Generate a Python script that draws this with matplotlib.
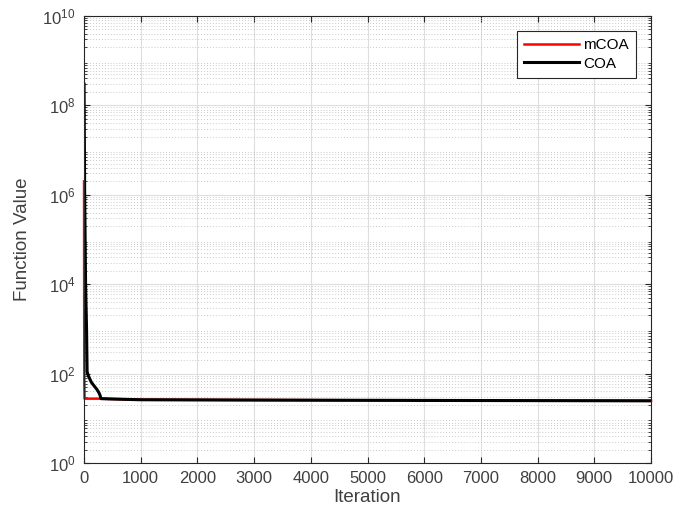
import matplotlib
matplotlib.use('agg')
import matplotlib.pyplot as plt
from matplotlib.ticker import LogLocator, NullFormatter, MultipleLocator

# convergence curves (iteration, best function value)
mcoa_iter = [1, 3, 6, 10, 300, 500, 1000, 3000, 6000, 10000]
mcoa_val = [2.0e6, 5.0e3, 60, 27.5, 27.5, 27.0, 26.0, 25.6, 25.1, 24.6]

coa_iter = [1, 12, 28, 45, 55, 75, 106, 130, 159, 200, 229, 260, 282, 300,
            500, 1000, 3000, 6000, 10000]
coa_val = [3.0e8, 1.0e6, 1.0e4, 1.0e3, 110, 90, 74, 64, 57, 49, 44, 38,
           33, 27.5, 27.0, 26.0, 25.6, 25.1, 24.6]

plt.rcParams['font.family'] = ['Liberation Sans', 'DejaVu Sans']

fig = plt.figure(figsize=(6.78, 5.23), dpi=100)
ax = fig.add_axes([84 / 678, 1 - 463 / 523, 567 / 678, 447 / 523])

ax.plot(mcoa_iter, mcoa_val, color='#ff0000', lw=1.8, label='mCOA',
        clip_on=False)
ax.plot(coa_iter, coa_val, color='black', lw=2.2, label='COA')

ax.set_yscale('log')
ax.set_xlim(0, 10000)
ax.set_ylim(1, 1e10)
ax.xaxis.set_major_locator(MultipleLocator(1000))
ax.set_yticks([1, 1e2, 1e4, 1e6, 1e8, 1e10])
ax.yaxis.set_minor_locator(LogLocator(base=10, subs=range(2, 10), numticks=20))
ax.yaxis.set_minor_formatter(NullFormatter())

ax.grid(True, which='major', color='#dedede', lw=0.8)
ax.grid(True, which='minor', axis='y', color='#b8b8b8', lw=0.6, linestyle=(0, (1, 2.5)))
ax.set_axisbelow(True)

for side in ['top', 'bottom', 'left', 'right']:
    ax.spines[side].set_color('#262626')
    ax.spines[side].set_linewidth(0.8)
ax.tick_params(which='both', direction='in', top=True, right=True,
               colors='#262626', labelcolor='#404040', labelsize=12)
ax.tick_params(which='major', length=4, pad=6)
ax.tick_params(which='minor', length=2)

ax.set_xlabel('Iteration', fontsize=13.5, color='#404040', labelpad=2)
ax.set_ylabel('Function Value', fontsize=13.5, color='#404040', labelpad=8)

leg = ax.legend(loc='upper right', fontsize=11, handlelength=3.6,
                fancybox=False, framealpha=1, edgecolor='#262626',
                borderaxespad=1.0, handletextpad=0.3, borderpad=0.45,
                labelspacing=0.3)
leg.get_frame().set_linewidth(0.8)

fig.savefig('out.png', dpi=100)
